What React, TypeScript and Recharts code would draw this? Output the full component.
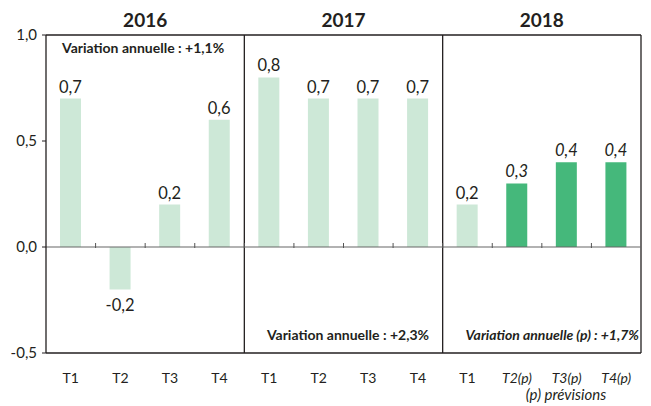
import {
  BarChart,
  Bar,
  XAxis,
  YAxis,
  CartesianGrid,
  ReferenceLine,
  LabelList,
  Cell,
} from "recharts";

const years = ["2016", "2016", "2016", "2016", "2017", "2017", "2017", "2017", "2018", "2018", "2018", "2018"];
const quarters = ["T1", "T2", "T3", "T4", "T1", "T2", "T3", "T4", "T1", "T2(p)", "T3(p)", "T4(p)"];
const values = [0.7, -0.2, 0.2, 0.6, 0.8, 0.7, 0.7, 0.7, 0.2, 0.3, 0.4, 0.4];
const forecast = [false, false, false, false, false, false, false, false, false, true, true, true];
const yTicks = [-0.5, 0, 0.5, 1];
const annualNotes = [
  "Variation annuelle : +1,1%",
  "Variation annuelle : +2,3%",
  "Variation annuelle (p) : +1,7%",
];
const footnote = "(p) prévisions";

const data = values.map((v, i) => ({
  key: `${years[i]}-${quarters[i]}`,
  year: years[i],
  quarter: quarters[i],
  value: v,
  forecast: forecast[i],
}));

const W = 651;
const H = 406;
const LEFT = 46;
const RIGHT = 10;
const TOP = 35;
const PLOT_W = W - LEFT - RIGHT;
const HALF_BAND = PLOT_W / 12 / 2;

const FONT = "Lato, 'Open Sans', sans-serif";
const LINE = "#231f20";
const LIGHT = "#cde8d7";
const DARK = "#45b87b";

const fmt = (v: number) => v.toFixed(1).replace(".", ",");

// year titles sit centred over each 4-quarter panel
function YearTick(props: any) {
  const { x, payload, index } = props;
  if (index % 4 !== 1) return null;
  return (
    <text
      x={x + HALF_BAND}
      y={27}
      textAnchor="middle"
      fontFamily={FONT}
      fontWeight={700}
      fontSize={19}
      fill="#231f20"
    >
      {String(payload.value).slice(0, 4)}
    </text>
  );
}

function QuarterTick(props: any) {
  const { x, y, payload, index } = props;
  const q = quarters[index] ?? String(payload.value).split("-")[1];
  return (
    <text
      x={x}
      y={y}
      dy={22}
      textAnchor="middle"
      fontFamily={FONT}
      fontSize={14}
      fontStyle={forecast[index] ? "italic" : "normal"}
      fill="#231f20"
    >
      {q}
    </text>
  );
}

function ValueLabel(props: any) {
  const { x, y, width, height, value, index } = props;
  const top = Math.min(y, y + height);
  const bottom = Math.max(y, y + height);
  const neg = value < 0;
  return (
    <text
      x={x + width / 2}
      y={neg ? bottom + 22 : top - 6}
      textAnchor="middle"
      fontFamily={FONT}
      fontSize={16.5}
      fontStyle={forecast[index] ? "italic" : "normal"}
      fill="#231f20"
    >
      {fmt(value)}
    </text>
  );
}

// zero line with small marks between quarters
function ZeroLine(props: any) {
  const { x1, y1, x2, y2 } = props;
  const ticks = [];
  for (let i = 1; i < 12; i++) {
    const x = x1 + ((x2 - x1) * i) / 12;
    ticks.push(<line key={i} x1={x} x2={x} y1={y1 - 4} y2={y1 + 1} stroke="#555" strokeWidth={1} />);
  }
  return (
    <g>
      <line x1={x1} y1={y1} x2={x2} y2={y2} stroke="#666" strokeWidth={1.2} />
      {ticks}
    </g>
  );
}

export default function App() {
  return (
    <div style={{ position: "absolute", left: 0, top: 0, width: W, height: H, background: "#fff" }}>
      <BarChart
        width={W}
        height={H}
        data={data}
        margin={{ top: 0, right: RIGHT, bottom: 23, left: 0 }}
        barSize={21}
      >
        <CartesianGrid
          stroke={LINE}
          strokeWidth={1.3}
          horizontalCoordinatesGenerator={({ offset }: any) => [offset.top, offset.top + offset.height]}
          verticalCoordinatesGenerator={({ offset }: any) => [
            offset.left + offset.width / 3,
            offset.left + (offset.width * 2) / 3,
            offset.left + offset.width,
          ]}
        />
        <XAxis
          xAxisId="top"
          orientation="top"
          dataKey="key"
          axisLine={false}
          tickLine={false}
          interval={0}
          height={TOP}
          tick={<YearTick />}
        />
        <XAxis
          dataKey="key"
          axisLine={false}
          tickLine={false}
          interval={0}
          height={30}
          tick={<QuarterTick />}
        />
        <YAxis
          width={LEFT}
          domain={[-0.5, 1]}
          ticks={yTicks}
          tickFormatter={fmt}
          axisLine={{ stroke: LINE, strokeWidth: 1.3 }}
          tickLine={{ stroke: LINE }}
          tickSize={4}
          tickMargin={5}
          tick={{ fontFamily: FONT, fontSize: 15, fill: "#231f20" }}
        />
        <ReferenceLine y={0} shape={<ZeroLine />} />
        <Bar dataKey="value" isAnimationActive={false}>
          {data.map((d) => (
            <Cell key={d.key} fill={d.forecast ? DARK : LIGHT} />
          ))}
          <LabelList dataKey="value" content={<ValueLabel />} />
        </Bar>
      </BarChart>
      <svg
        width={W}
        height={H}
        style={{ position: "absolute", left: 0, top: 0, pointerEvents: "none" }}
      >
        <text x={62} y={53} fontFamily={FONT} fontWeight={700} fontSize={14} fill="#231f20">
          {annualNotes[0]}
        </text>
        <text x={429} y={340} textAnchor="end" fontFamily={FONT} fontWeight={700} fontSize={14} fill="#231f20">
          {annualNotes[1]}
        </text>
        <text
          x={639}
          y={340}
          textAnchor="end"
          fontFamily={FONT}
          fontWeight={700}
          fontStyle="italic"
          fontSize={14}
          fill="#231f20"
        >
          {annualNotes[2]}
        </text>
        <text x={566} y={400} textAnchor="middle" fontFamily={FONT} fontStyle="italic" fontSize={15} fill="#231f20">
          {footnote}
        </text>
      </svg>
    </div>
  );
}
